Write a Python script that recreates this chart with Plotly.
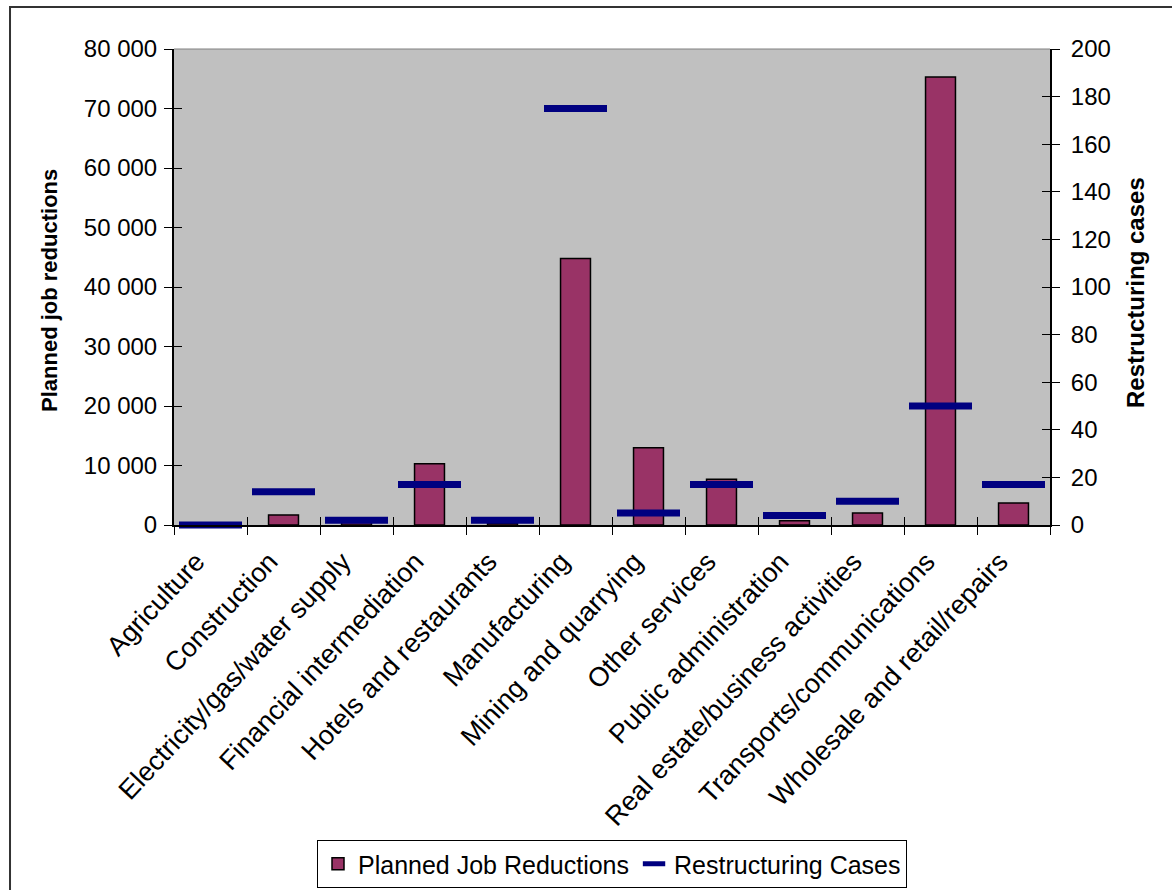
import plotly.graph_objects as go

# Sectors and their values
sectors = [
    "Agriculture",
    "Construction",
    "Electricity/gas/water supply",
    "Financial intermediation",
    "Hotels and restaurants",
    "Manufacturing",
    "Mining and quarrying",
    "Other services",
    "Public administration",
    "Real estate/business activities",
    "Transports/communications",
    "Wholesale and retail/repairs",
]
planned_job_reductions = [0, 1700, 400, 10300, 300, 44800, 13000, 7700, 700, 2000, 75300, 3700]
restructuring_cases = [0, 14, 2, 17, 2, 175, 5, 17, 4, 10, 50, 17]

left_ticks = [0, 10000, 20000, 30000, 40000, 50000, 60000, 70000, 80000]
left_tick_text = ["0", "10 000", "20 000", "30 000", "40 000", "50 000", "60 000", "70 000", "80 000"]
right_ticks = [0, 20, 40, 60, 80, 100, 120, 140, 160, 180, 200]

FONT = "Liberation Sans, Arial, sans-serif"
BAR_COLOR = "#993366"
CASE_COLOR = "#000080"

fig = go.Figure()

fig.add_trace(go.Bar(
    x=sectors,
    y=planned_job_reductions,
    name="Planned Job Reductions",
    width=0.41,
    marker=dict(color=BAR_COLOR, line=dict(color="black", width=1.5)),
    xaxis="x",
    yaxis="y",
))

fig.add_trace(go.Scatter(
    x=sectors,
    y=restructuring_cases,
    name="Restructuring Cases",
    mode="markers",
    marker=dict(symbol="line-ew", size=45, color=CASE_COLOR,
                line=dict(color=CASE_COLOR, width=7)),
    cliponaxis=False,
    xaxis="x",
    yaxis="y2",
))

# transparent helper traces so the inside-tick overlay axes get drawn
for ya in ("y3", "y4"):
    fig.add_trace(go.Scatter(x=[0], y=[0], xaxis="x2", yaxis=ya, mode="markers",
                             marker=dict(opacity=0, size=1), showlegend=False,
                             hoverinfo="skip"))

tick_font = dict(family=FONT, size=24, color="black")
inside_common = dict(ticks="inside", ticklen=8, tickcolor="black", tickwidth=1,
                     showticklabels=False, showgrid=False, zeroline=False,
                     showline=False, automargin=False)

fig.update_layout(
    width=1172,
    height=890,
    margin=dict(l=174, r=122, t=49, b=365, autoexpand=False),
    paper_bgcolor="white",
    plot_bgcolor="#C0C0C0",
    showlegend=True,
    legend=dict(
        orientation="h",
        xref="container", yref="container",
        x=612 / 1172, xanchor="center",
        y=1 - 840 / 890, yanchor="top",
        font=dict(family=FONT, size=25, color="black"),
        bgcolor="white",
        bordercolor="black",
        borderwidth=1,
        itemwidth=30,
    ),
    xaxis=dict(
        type="category",
        categoryorder="array",
        categoryarray=sectors,
        range=[-0.5, 11.5],
        tickson="boundaries",
        ticks="outside",
        ticklen=8,
        tickcolor="black",
        tickwidth=1,
        tickangle=-47,
        ticklabelshift=-14,
        ticklabelstandoff=8,
        tickfont=dict(family=FONT, size=27, color="black"),
        showline=True,
        linecolor="black",
        linewidth=2,
        showgrid=False,
        zeroline=False,
        automargin=False,
    ),
    xaxis2=dict(
        overlaying="x",
        anchor="y3",
        type="linear",
        range=[-0.5, 11.5],
        tickvals=[i - 0.5 for i in range(13)],
        **inside_common,
    ),
    yaxis=dict(
        range=[0, 80000],
        tickvals=left_ticks,
        ticktext=left_tick_text,
        ticks="outside",
        ticklen=8,
        tickcolor="black",
        tickfont=tick_font,
        ticklabelstandoff=2,
        showline=True,
        linecolor="black",
        linewidth=2,
        showgrid=False,
        zeroline=False,
        automargin=False,
    ),
    yaxis2=dict(
        overlaying="y",
        side="right",
        anchor="x",
        range=[0, 200],
        tickvals=right_ticks,
        ticks="outside",
        ticklen=8,
        tickcolor="black",
        tickfont=tick_font,
        ticklabelstandoff=6,
        showline=True,
        linecolor="black",
        linewidth=2,
        showgrid=False,
        zeroline=False,
        automargin=False,
    ),
    yaxis3=dict(
        overlaying="y",
        anchor="x2",
        range=[0, 80000],
        tickvals=left_ticks,
        **inside_common,
    ),
    yaxis4=dict(
        overlaying="y",
        side="right",
        anchor="x2",
        range=[0, 200],
        tickvals=right_ticks,
        **inside_common,
    ),
    annotations=[
        dict(text="<b>Planned job reductions</b>", xref="paper", yref="paper",
             x=(49 - 174) / 876, y=(525 - 291) / 476, xanchor="center", yanchor="middle",
             textangle=-90, showarrow=False,
             font=dict(family=FONT, size=22, color="black")),
        dict(text="<b>Restructuring cases</b>", xref="paper", yref="paper",
             x=(1135 - 174) / 876, y=(525 - 293) / 476, xanchor="center", yanchor="middle",
             textangle=-90, showarrow=False,
             font=dict(family=FONT, size=24, color="black")),
    ],
    shapes=[
        # light frame along the top of the plot area
        dict(type="line", xref="paper", yref="paper", x0=0, x1=1, y0=1, y1=1,
             line=dict(color="#808080", width=1)),
        # outer chart frame
        dict(type="rect", xref="paper", yref="paper",
             x0=-0.1872, x1=1.25, y0=-0.8, y1=1.0882,
             line=dict(color="#333333", width=2), layer="below"),
    ],
)

fig.write_html("out.html")
